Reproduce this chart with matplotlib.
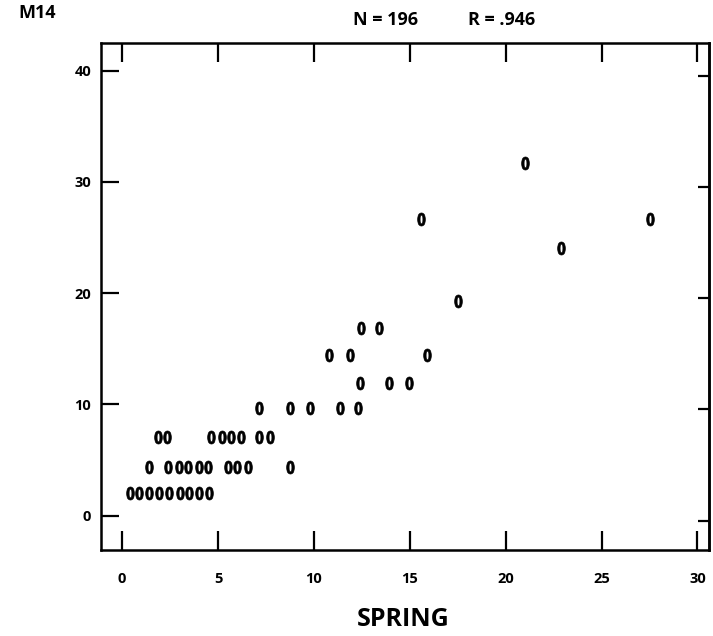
import matplotlib
matplotlib.use('Agg')
import matplotlib.pyplot as plt
from matplotlib.textpath import TextPath
from matplotlib.font_manager import FontProperties
from matplotlib.transforms import Affine2D

plt.rcParams['font.family'] = ['Open Sans', 'DejaVu Sans']
plt.rcParams['font.weight'] = 'bold'

# ---- data (each "0" glyph is one plotted symbol) ----
x_vals = [
    0.4, 0.9, 1.4, 1.95, 2.45, 3.0, 3.5, 4.0, 4.55,          # row ~2
    1.4, 2.4, 2.95, 3.45, 4.0, 4.5, 5.5, 6.0, 6.55, 8.75,    # row ~4.4
    1.85, 2.35, 4.65, 5.2, 5.7, 6.2, 7.15, 7.7,              # row ~7.1
    7.15, 8.75, 9.8, 11.35, 12.3,                            # row ~9.7
    12.4, 13.9, 14.95,                                       # row ~11.9
    10.8, 11.9, 15.9,                                        # row ~14.4
    12.45, 13.4,                                             # row ~16.9
    17.5,                                                    # row ~19.3
    22.9,                                                    # row ~24.1
    15.6, 27.5,                                              # row ~26.7
    21.0,                                                    # row ~31.7
]
y_vals = [
    2.0, 2.0, 2.0, 2.0, 2.0, 2.0, 2.0, 2.0, 2.0,
    4.4, 4.4, 4.4, 4.4, 4.4, 4.4, 4.4, 4.4, 4.4, 4.4,
    7.1, 7.1, 7.1, 7.1, 7.1, 7.1, 7.1, 7.1,
    9.7, 9.7, 9.7, 9.7, 9.7,
    11.9, 11.9, 11.9,
    14.4, 14.4, 14.4,
    16.9, 16.9,
    19.3,
    24.1,
    26.7, 26.7,
    31.7,
]
x_ticks = [0, 5, 10, 15, 20, 25, 30]
y_ticks = [0, 10, 20, 30, 40]
panel_label = "M14"
stat_n = "N = 196"
stat_r = "R = .946"
x_label = "SPRING"

# narrow bold "0" glyph used as the plotting symbol
_tp = TextPath((0, 0), "0", prop=FontProperties(family='DejaVu Sans', weight='bold'))
_ext = _tp.get_extents()
zero_marker = Affine2D().translate(-(_ext.x0 + _ext.x1) / 2,
                                   -(_ext.y0 + _ext.y1) / 2).scale(0.74, 1.0).transform_path(_tp)

W, H = 713, 636
fig = plt.figure(figsize=(W / 100, H / 100), dpi=100)
ax = fig.add_axes([101 / W, 1 - 550 / H, (709 - 101) / W, (550 - 43) / H])

ax.scatter(x_vals, y_vals, marker=zero_marker, s=88, facecolors='black',
           edgecolors='black', linewidths=0.5)

ax.set_xlim(-1.1, 30.6)
ax.set_ylim(-3.1, 42.5)

for sp in ax.spines.values():
    sp.set_linewidth(1.8)

ax.set_xticks(x_ticks)
ax.set_yticks(y_ticks)
ax.set_xticklabels([str(v) for v in x_ticks], fontsize=10.5, fontweight='bold')
ax.set_yticklabels([str(v) for v in y_ticks], fontsize=10.5, fontweight='bold')
ax.tick_params(axis='x', direction='in', length=14, width=1.6, top=True, pad=16)
ax.tick_params(axis='y', direction='in', length=13, width=1.6, right=False, pad=7)

# short tick marks on the right frame (slightly offset in the scan)
sec = ax.secondary_yaxis('right', functions=(lambda v: v + 0.45, lambda v: v - 0.45))
sec.set_yticks(y_ticks)
sec.tick_params(direction='in', length=8, width=1.6, labelright=False)
sec.spines['right'].set_linewidth(1.8)

fig.text(18 / W, 1 - 13 / H, panel_label, fontsize=13, fontweight='bold',
         ha='left', va='center')
fig.text(353 / W, 1 - 20 / H, stat_n, fontsize=13, fontweight='bold',
         ha='left', va='center')
fig.text(468 / W, 1 - 20 / H, stat_r, fontsize=13, fontweight='bold',
         ha='left', va='center')
fig.text(403 / W, 1 - 620 / H, x_label, fontsize=18, fontweight='bold',
         ha='center', va='center')

fig.savefig('out.png', dpi=100)
